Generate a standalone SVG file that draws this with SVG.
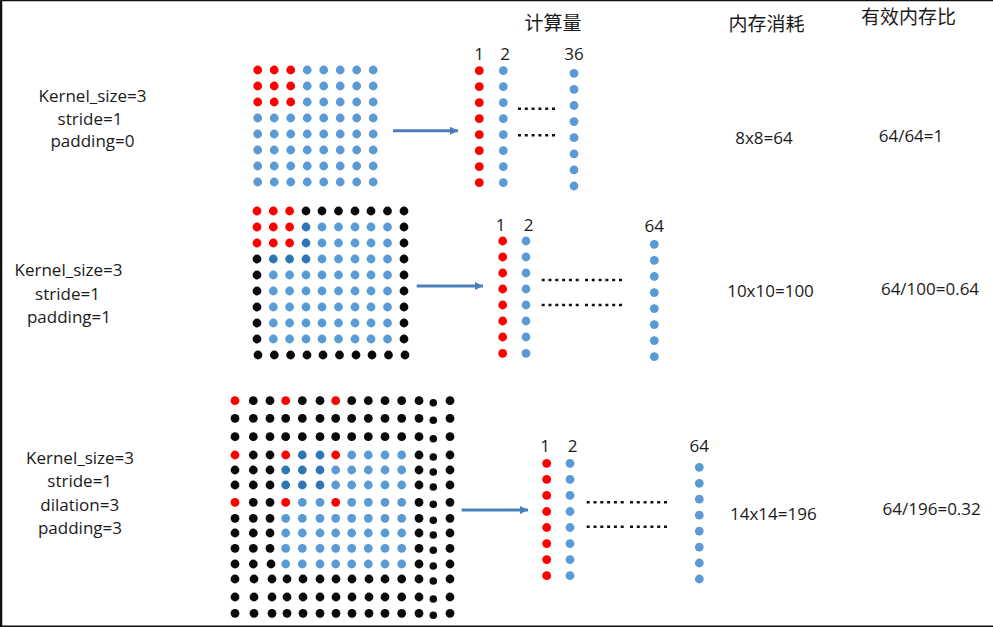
<svg xmlns="http://www.w3.org/2000/svg" xmlns:xlink="http://www.w3.org/1999/xlink" width="993" height="627" viewBox="0 0 993 627">
<style>
.t{font-family:"Open Sans","Liberation Sans",sans-serif;font-size:17px;fill:#1a1a1a;text-anchor:middle}
.n{font-family:"Open Sans","Liberation Sans",sans-serif;font-size:17px;fill:#1a1a1a;text-anchor:middle}
.h{font-family:"Noto Sans CJK SC","Noto Sans",sans-serif;font-size:19px;fill:#1a1a1a;text-anchor:middle}
circle{r:4.4px}
.r{fill:#ff0000}
.l{fill:#5b9bd5}
.d{fill:#2e75b6}
.k{fill:#0a0a0a}
.sm{r:3.8px}
.dots{stroke:#111;stroke-width:2.6;stroke-dasharray:3 3.8;fill:none}
.arr{stroke:#4a7ebb;stroke-width:3;fill:none}
.frame{stroke:#111;fill:none}
</style>
<defs>
<marker id="ah" markerUnits="userSpaceOnUse" markerWidth="10" markerHeight="10" refX="8" refY="4" orient="auto">
<path d="M0,0 L8,4 L0,8 z" fill="#4a7ebb"/>
</marker>
</defs>
<rect width="993" height="627" fill="#ffffff"/>
<g id="frame">
<line class="frame" x1="0" y1="0.5" x2="993" y2="0.5" stroke-width="1.5"/>
<line class="frame" x1="1" y1="0" x2="1" y2="627" stroke-width="2.5"/>
<line class="frame" x1="0" y1="626.3" x2="993" y2="626.3" stroke-width="1.5"/>
</g>

<g id="headers">
<text class="h" x="553" y="30">计算量</text>
<text class="h" x="766.5" y="31">内存消耗</text>
<text class="h" x="908.5" y="23.5">有效内存比</text>
</g>

<g id="params1">
<text class="t" x="92.5" y="102">Kernel_size=3</text>
<text class="t" x="90" y="125">stride=1</text>
<text class="t" x="92.5" y="147">padding=0</text>
</g>
<g id="params2">
<text class="t" x="68.5" y="276">Kernel_size=3</text>
<text class="t" x="67.5" y="300">stride=1</text>
<text class="t" x="69" y="323">padding=1</text>
</g>
<g id="params3">
<text class="t" x="80" y="463.5">Kernel_size=3</text>
<text class="t" x="79.7" y="487">stride=1</text>
<text class="t" x="79.7" y="511">dilation=3</text>
<text class="t" x="80" y="534">padding=3</text>
</g>

<g id="grid1">
<g transform="translate(0,70)"><circle class="r" cx="257.7"/><circle class="r" cx="274.2"/><circle class="r" cx="290.7"/><circle class="l" cx="307.2"/><circle class="l" cx="323.7"/><circle class="l" cx="340.2"/><circle class="l" cx="356.7"/><circle class="l" cx="373.2"/></g>
<g transform="translate(0,86)"><circle class="r" cx="257.7"/><circle class="r" cx="274.2"/><circle class="r" cx="290.7"/><circle class="l" cx="307.2"/><circle class="l" cx="323.7"/><circle class="l" cx="340.2"/><circle class="l" cx="356.7"/><circle class="l" cx="373.2"/></g>
<g transform="translate(0,102)"><circle class="r" cx="257.7"/><circle class="r" cx="274.2"/><circle class="r" cx="290.7"/><circle class="l" cx="307.2"/><circle class="l" cx="323.7"/><circle class="l" cx="340.2"/><circle class="l" cx="356.7"/><circle class="l" cx="373.2"/></g>
<g transform="translate(0,118)"><circle class="l" cx="257.7"/><circle class="l" cx="274.2"/><circle class="l" cx="290.7"/><circle class="l" cx="307.2"/><circle class="l" cx="323.7"/><circle class="l" cx="340.2"/><circle class="l" cx="356.7"/><circle class="l" cx="373.2"/></g>
<g transform="translate(0,134)"><circle class="l" cx="257.7"/><circle class="l" cx="274.2"/><circle class="l" cx="290.7"/><circle class="l" cx="307.2"/><circle class="l" cx="323.7"/><circle class="l" cx="340.2"/><circle class="l" cx="356.7"/><circle class="l" cx="373.2"/></g>
<g transform="translate(0,150)"><circle class="l" cx="257.7"/><circle class="l" cx="274.2"/><circle class="l" cx="290.7"/><circle class="l" cx="307.2"/><circle class="l" cx="323.7"/><circle class="l" cx="340.2"/><circle class="l" cx="356.7"/><circle class="l" cx="373.2"/></g>
<g transform="translate(0,166)"><circle class="l" cx="257.7"/><circle class="l" cx="274.2"/><circle class="l" cx="290.7"/><circle class="l" cx="307.2"/><circle class="l" cx="323.7"/><circle class="l" cx="340.2"/><circle class="l" cx="356.7"/><circle class="l" cx="373.2"/></g>
<g transform="translate(0,182)"><circle class="l" cx="257.7"/><circle class="l" cx="274.2"/><circle class="l" cx="290.7"/><circle class="l" cx="307.2"/><circle class="l" cx="323.7"/><circle class="l" cx="340.2"/><circle class="l" cx="356.7"/><circle class="l" cx="373.2"/></g>
</g>

<g id="grid2">
<g transform="translate(0,211)"><circle class="r" cx="257"/><circle class="r" cx="273.3"/><circle class="r" cx="289.6"/><circle class="k" cx="306"/><circle class="k" cx="322"/><circle class="k" cx="338.5"/><circle class="k" cx="355"/><circle class="k" cx="371"/><circle class="k" cx="387.5"/><circle class="k" cx="404"/></g>
<g transform="translate(0,227)"><circle class="r" cx="257"/><circle class="r" cx="273.3"/><circle class="r" cx="289.6"/><circle class="d" cx="306"/><circle class="l" cx="322"/><circle class="l" cx="338.5"/><circle class="l" cx="355"/><circle class="l" cx="371"/><circle class="l" cx="387.5"/><circle class="k" cx="404"/></g>
<g transform="translate(0,243)"><circle class="r" cx="257"/><circle class="r" cx="273.3"/><circle class="r" cx="289.6"/><circle class="d" cx="306"/><circle class="l" cx="322"/><circle class="l" cx="338.5"/><circle class="l" cx="355"/><circle class="l" cx="371"/><circle class="l" cx="387.5"/><circle class="k" cx="404"/></g>
<g transform="translate(0,259)"><circle class="k" cx="257"/><circle class="d" cx="273.3"/><circle class="d" cx="289.6"/><circle class="d" cx="306"/><circle class="l" cx="322"/><circle class="l" cx="338.5"/><circle class="l" cx="355"/><circle class="l" cx="371"/><circle class="l" cx="387.5"/><circle class="k" cx="404"/></g>
<g transform="translate(0,275)"><circle class="k" cx="257"/><circle class="l" cx="273.3"/><circle class="l" cx="289.6"/><circle class="l" cx="306"/><circle class="l" cx="322"/><circle class="l" cx="338.5"/><circle class="l" cx="355"/><circle class="l" cx="371"/><circle class="l" cx="387.5"/><circle class="k" cx="404"/></g>
<g transform="translate(0,291)"><circle class="k" cx="257"/><circle class="l" cx="273.3"/><circle class="l" cx="289.6"/><circle class="l" cx="306"/><circle class="l" cx="322"/><circle class="l" cx="338.5"/><circle class="l" cx="355"/><circle class="l" cx="371"/><circle class="l" cx="387.5"/><circle class="k" cx="404"/></g>
<g transform="translate(0,307)"><circle class="k" cx="257"/><circle class="l" cx="273.3"/><circle class="l" cx="289.6"/><circle class="l" cx="306"/><circle class="l" cx="322"/><circle class="l" cx="338.5"/><circle class="l" cx="355"/><circle class="l" cx="371"/><circle class="l" cx="387.5"/><circle class="k" cx="404"/></g>
<g transform="translate(0,323)"><circle class="k" cx="257"/><circle class="l" cx="273.3"/><circle class="l" cx="289.6"/><circle class="l" cx="306"/><circle class="l" cx="322"/><circle class="l" cx="338.5"/><circle class="l" cx="355"/><circle class="l" cx="371"/><circle class="l" cx="387.5"/><circle class="k" cx="404"/></g>
<g transform="translate(0,339)"><circle class="k" cx="257"/><circle class="l" cx="273.3"/><circle class="l" cx="289.6"/><circle class="l" cx="306"/><circle class="l" cx="322"/><circle class="l" cx="338.5"/><circle class="l" cx="355"/><circle class="l" cx="371"/><circle class="l" cx="387.5"/><circle class="k" cx="404"/></g>
<g transform="translate(0,355)"><circle class="k" cx="258"/><circle class="k" cx="274.3"/><circle class="k" cx="290.6"/><circle class="k" cx="307"/><circle class="k" cx="323"/><circle class="k" cx="339.5"/><circle class="k" cx="356"/><circle class="k" cx="372"/><circle class="k" cx="388.5"/><circle class="k" cx="405"/></g>
</g>

<g id="grid3">
<g transform="translate(0,400.7)"><circle class="r" cx="235"/><circle class="k" cx="253.3"/><circle class="k" cx="270"/><circle class="r" cx="285.7"/><circle class="k" cx="302.3"/><circle class="k" cx="320"/><circle class="r" cx="335.7"/><circle class="k" cx="351.7"/><circle class="k" cx="368.3"/><circle class="k" cx="385"/><circle class="k" cx="401.7"/><circle class="k" cx="419"/><circle class="k sm" cx="433.3" cy="2"/><circle class="k" cx="450"/></g>
<g transform="translate(0,418.3)"><circle class="k" cx="235"/><circle class="k" cx="253.3"/><circle class="k" cx="270"/><circle class="k" cx="285.7"/><circle class="k" cx="302.3"/><circle class="k" cx="320"/><circle class="k" cx="335.7"/><circle class="k" cx="351.7"/><circle class="k" cx="368.3"/><circle class="k" cx="385"/><circle class="k" cx="401.7"/><circle class="k" cx="419"/><circle class="k sm" cx="433.3" cy="2"/><circle class="k" cx="450"/></g>
<g transform="translate(0,436.7)"><circle class="k" cx="235"/><circle class="k" cx="253.3"/><circle class="k" cx="270"/><circle class="k" cx="285.7"/><circle class="k" cx="302.3"/><circle class="k" cx="320"/><circle class="k" cx="335.7"/><circle class="k" cx="351.7"/><circle class="k" cx="368.3"/><circle class="k" cx="385"/><circle class="k" cx="401.7"/><circle class="k" cx="419"/><circle class="k sm" cx="433.3" cy="2"/><circle class="k" cx="450"/></g>
<g transform="translate(0,455)"><circle class="r" cx="235"/><circle class="k" cx="253.3"/><circle class="k" cx="270"/><circle class="r" cx="285.7"/><circle class="d" cx="302.3"/><circle class="d" cx="320"/><circle class="r" cx="335.7"/><circle class="l" cx="351.7"/><circle class="l" cx="368.3"/><circle class="l" cx="385"/><circle class="l" cx="401.7"/><circle class="k" cx="419"/><circle class="k sm" cx="433.3" cy="2"/><circle class="k" cx="450"/></g>
<g transform="translate(0,470)"><circle class="k" cx="235"/><circle class="k" cx="253.3"/><circle class="k" cx="270"/><circle class="d" cx="285.7"/><circle class="d" cx="302.3"/><circle class="d" cx="320"/><circle class="l" cx="335.7"/><circle class="l" cx="351.7"/><circle class="l" cx="368.3"/><circle class="l" cx="385"/><circle class="l" cx="401.7"/><circle class="k" cx="419"/><circle class="k sm" cx="433.3" cy="2"/><circle class="k" cx="450"/></g>
<g transform="translate(0,485)"><circle class="k" cx="235"/><circle class="k" cx="253.3"/><circle class="k" cx="270"/><circle class="d" cx="285.7"/><circle class="d" cx="302.3"/><circle class="d" cx="320"/><circle class="l" cx="335.7"/><circle class="l" cx="351.7"/><circle class="l" cx="368.3"/><circle class="l" cx="385"/><circle class="l" cx="401.7"/><circle class="k" cx="419"/><circle class="k sm" cx="433.3" cy="2"/><circle class="k" cx="450"/></g>
<g transform="translate(0,502.3)"><circle class="r" cx="235"/><circle class="k" cx="253.3"/><circle class="k" cx="270"/><circle class="r" cx="285.7"/><circle class="l" cx="302.3"/><circle class="l" cx="320"/><circle class="r" cx="335.7"/><circle class="l" cx="351.7"/><circle class="l" cx="368.3"/><circle class="l" cx="385"/><circle class="l" cx="401.7"/><circle class="k" cx="419"/><circle class="k sm" cx="433.3" cy="2"/><circle class="k" cx="450"/></g>
<g transform="translate(0,518.3)"><circle class="k" cx="235"/><circle class="k" cx="253.3"/><circle class="k" cx="270"/><circle class="l" cx="285.7"/><circle class="l" cx="302.3"/><circle class="l" cx="320"/><circle class="l" cx="335.7"/><circle class="l" cx="351.7"/><circle class="l" cx="368.3"/><circle class="l" cx="385"/><circle class="l" cx="401.7"/><circle class="k" cx="419"/><circle class="k sm" cx="433.3" cy="2"/><circle class="k" cx="450"/></g>
<g transform="translate(0,533)"><circle class="k" cx="235"/><circle class="k" cx="253.3"/><circle class="k" cx="270"/><circle class="l" cx="285.7"/><circle class="l" cx="302.3"/><circle class="l" cx="320"/><circle class="l" cx="335.7"/><circle class="l" cx="351.7"/><circle class="l" cx="368.3"/><circle class="l" cx="385"/><circle class="l" cx="401.7"/><circle class="k" cx="419"/><circle class="k sm" cx="433.3" cy="2"/><circle class="k" cx="450"/></g>
<g transform="translate(0,548.3)"><circle class="k" cx="235"/><circle class="k" cx="253.3"/><circle class="k" cx="270"/><circle class="l" cx="285.7"/><circle class="l" cx="302.3"/><circle class="l" cx="320"/><circle class="l" cx="335.7"/><circle class="l" cx="351.7"/><circle class="l" cx="368.3"/><circle class="l" cx="385"/><circle class="l" cx="401.7"/><circle class="k" cx="419"/><circle class="k sm" cx="433.3" cy="2"/><circle class="k" cx="450"/></g>
<g transform="translate(0,564)"><circle class="k" cx="235"/><circle class="k" cx="253.3"/><circle class="k" cx="271"/><circle class="l" cx="285.7"/><circle class="l" cx="302.3"/><circle class="l" cx="320"/><circle class="l" cx="335.7"/><circle class="l" cx="351.7"/><circle class="l" cx="368.3"/><circle class="l" cx="385"/><circle class="l" cx="401.7"/><circle class="k" cx="419"/><circle class="k sm" cx="433.3" cy="2"/><circle class="k" cx="450"/></g>
<g transform="translate(0,579)"><circle class="k" cx="235"/><circle class="k" cx="254"/><circle class="k" cx="272"/><circle class="k" cx="287"/><circle class="k" cx="303"/><circle class="k" cx="320"/><circle class="k" cx="336"/><circle class="k" cx="352"/><circle class="k" cx="369"/><circle class="k" cx="385"/><circle class="k" cx="401.7"/><circle class="k" cx="419"/><circle class="k sm" cx="433.3" cy="2"/><circle class="k" cx="450"/></g>
<g transform="translate(0,597)"><circle class="k" cx="235"/><circle class="k" cx="254"/><circle class="k" cx="272"/><circle class="k" cx="287"/><circle class="k" cx="303"/><circle class="k" cx="320"/><circle class="k" cx="336"/><circle class="k" cx="352"/><circle class="k" cx="369"/><circle class="k" cx="385"/><circle class="k" cx="401.7"/><circle class="k" cx="419"/><circle class="k sm" cx="433.3" cy="2"/><circle class="k" cx="450"/></g>
<g transform="translate(0,613.3)"><circle class="k" cx="235"/><circle class="k" cx="254"/><circle class="k" cx="272"/><circle class="k" cx="287"/><circle class="k" cx="303"/><circle class="k" cx="320"/><circle class="k" cx="336"/><circle class="k" cx="352"/><circle class="k" cx="369"/><circle class="k" cx="385"/><circle class="k" cx="401.7"/><circle class="k" cx="419"/><circle class="k sm" cx="433.3" cy="2"/><circle class="k" cx="450"/></g>
</g>

<g id="cols1">
<text class="n" x="479" y="60">1</text>
<text class="n" x="505" y="60">2</text>
<text class="n" x="574" y="60">36</text>
<g transform="translate(479.3,0)"><circle class="r" cy="70.7"/><circle class="r" cy="86.7"/><circle class="r" cy="102.7"/><circle class="r" cy="118.7"/><circle class="r" cy="134.7"/><circle class="r" cy="150.7"/><circle class="r" cy="166.7"/><circle class="r" cy="182.7"/></g>
<g transform="translate(503.3,0)"><circle class="l" cy="70.7"/><circle class="l" cy="86.7"/><circle class="l" cy="102.7"/><circle class="l" cy="118.7"/><circle class="l" cy="134.7"/><circle class="l" cy="150.7"/><circle class="l" cy="166.7"/><circle class="l" cy="182.7"/></g>
<g transform="translate(574,0)"><circle class="l" cy="73.3"/><circle class="l" cy="89.4"/><circle class="l" cy="105.5"/><circle class="l" cy="121.6"/><circle class="l" cy="137.7"/><circle class="l" cy="153.8"/><circle class="l" cy="169.9"/><circle class="l" cy="186"/></g>
<line class="dots" x1="518" y1="108.7" x2="556" y2="108.7"/>
<line class="dots" x1="518" y1="135.3" x2="556" y2="135.3"/>
</g>

<g id="cols2">
<text class="n" x="500.5" y="231">1</text>
<text class="n" x="528.5" y="231">2</text>
<text class="n" x="654.3" y="231.5">64</text>
<g transform="translate(502.7,0)"><circle class="r" cy="241"/><circle class="r" cy="257"/><circle class="r" cy="273"/><circle class="r" cy="289"/><circle class="r" cy="305"/><circle class="r" cy="321"/><circle class="r" cy="337"/><circle class="r" cy="353.3"/></g>
<g transform="translate(526,0)"><circle class="l" cy="241"/><circle class="l" cy="257"/><circle class="l" cy="273"/><circle class="l" cy="289"/><circle class="l" cy="305"/><circle class="l" cy="321"/><circle class="l" cy="337"/><circle class="l" cy="353.3"/></g>
<g transform="translate(654.3,0)"><circle class="l" cy="244.3"/><circle class="l" cy="260.4"/><circle class="l" cy="276.5"/><circle class="l" cy="292.6"/><circle class="l" cy="308.6"/><circle class="l" cy="324.6"/><circle class="l" cy="340.6"/><circle class="l" cy="356.7"/></g>
<line class="dots" x1="541.7" y1="280" x2="579.5" y2="280"/>
<line class="dots" x1="585" y1="280" x2="622.8" y2="280"/>
<line class="dots" x1="541.7" y1="305" x2="579.5" y2="305"/>
<line class="dots" x1="585" y1="305" x2="622.8" y2="305"/>
</g>

<g id="cols3">
<text class="n" x="545" y="452.3">1</text>
<text class="n" x="572.5" y="452.3">2</text>
<text class="n" x="699.3" y="452">64</text>
<g transform="translate(546.7,0)"><circle class="r" cy="463.3"/><circle class="r" cy="479.4"/><circle class="r" cy="495.4"/><circle class="r" cy="511.5"/><circle class="r" cy="527.5"/><circle class="r" cy="543.6"/><circle class="r" cy="559.6"/><circle class="r" cy="575.7"/></g>
<g transform="translate(570,0)"><circle class="l" cy="463.3"/><circle class="l" cy="479.4"/><circle class="l" cy="495.4"/><circle class="l" cy="511.5"/><circle class="l" cy="527.5"/><circle class="l" cy="543.6"/><circle class="l" cy="559.6"/><circle class="l" cy="575.7"/></g>
<g transform="translate(699.3,0)"><circle class="l" cy="467.3"/><circle class="l" cy="483.3"/><circle class="l" cy="499.2"/><circle class="l" cy="515.2"/><circle class="l" cy="531.1"/><circle class="l" cy="547.1"/><circle class="l" cy="563"/><circle class="l" cy="579"/></g>
<line class="dots" x1="586.7" y1="502.3" x2="624.5" y2="502.3"/>
<line class="dots" x1="630" y1="502.3" x2="667.8" y2="502.3"/>
<line class="dots" x1="586.7" y1="526.7" x2="624.5" y2="526.7"/>
<line class="dots" x1="630" y1="526.7" x2="667.8" y2="526.7"/>
</g>

<g id="mem1"><text class="t" x="764" y="144">8x8=64</text></g>
<g id="ratio1"><text class="t" x="911" y="142">64/64=1</text></g>
<g id="mem2"><text class="t" x="770.5" y="297">10x10=100</text></g>
<g id="ratio2"><text class="t" x="930" y="295">64/100=0.64</text></g>
<g id="mem3"><text class="t" x="773.3" y="520">14x14=196</text></g>
<g id="ratio3"><text class="t" x="931.7" y="515">64/196=0.32</text></g>

<g id="connectors">
<line class="arr" x1="393" y1="130.7" x2="458" y2="130.7" marker-end="url(#ah)"/>
<line class="arr" x1="416.7" y1="286" x2="483" y2="286" marker-end="url(#ah)"/>
<line class="arr" x1="461.7" y1="510" x2="528" y2="510" marker-end="url(#ah)"/>
</g>
</svg>
